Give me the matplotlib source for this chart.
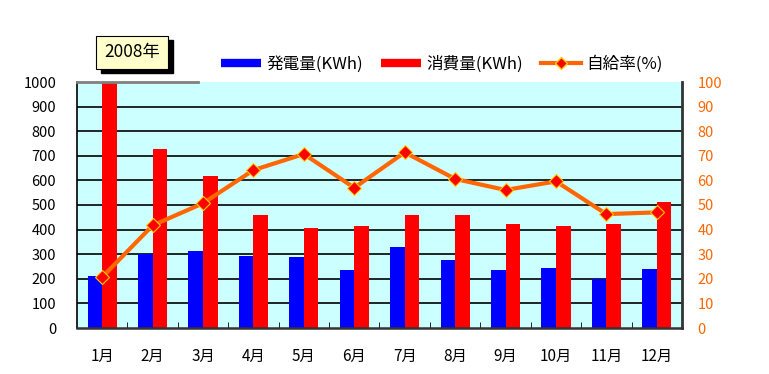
import matplotlib
matplotlib.use("Agg")
import matplotlib.pyplot as plt
import numpy as np
from matplotlib.lines import Line2D
from matplotlib.patches import Rectangle

plt.rcParams['font.family'] = ['Noto Sans CJK JP', 'DejaVu Sans']

months = ['1月', '2月', '3月', '4月', '5月', '6月', '7月', '8月', '9月', '10月', '11月', '12月']
generation = [211, 301, 313, 293, 289, 236, 329, 276, 236, 244, 198, 240]
consumption = [1020, 728, 618, 459, 407, 415, 459, 459, 423, 415, 423, 512]
self_rate = [20.7, 41.7, 50.7, 64.2, 70.7, 57.0, 71.4, 60.6, 56.1, 59.6, 46.3, 47.0]
left_ticks = list(range(0, 1001, 100))
right_ticks = list(range(0, 101, 10))

fig = plt.figure(figsize=(7.69, 3.74), dpi=100)
ax = fig.add_axes([77/769, 1-328/374, (682-77)/769, (328-82)/374])
ax.set_facecolor('#CCFFFF')

x = np.arange(len(months))
w = 0.29
ax.bar(x - w/2, generation, width=w, color='#0000FF', zorder=2)
ax.bar(x + w/2, consumption, width=w, color='#FF0000', zorder=2)
ax.set_xlim(-0.5, len(months) - 0.5)
ax.set_ylim(0, 1000)
ax.set_yticks(left_ticks)
ax.set_yticklabels([str(t) for t in left_ticks], fontsize=10.5)
for t in left_ticks[1:-1]:
    ax.axhline(t, color='black', lw=1.2, zorder=1)

ax.set_xticks(x)
ax.set_xticklabels(months, fontsize=11)
ax.tick_params(axis='x', length=0, pad=14)
ax.set_xticks(np.arange(0.5, len(months) - 1, 1), minor=True)
ax.tick_params(axis='x', which='minor', direction='in', length=4, color='black')
ax.tick_params(axis='y', length=0, pad=15)

ax.spines['left'].set_color('black')
ax.spines['left'].set_linewidth(1.2)
ax.spines['bottom'].set_color('#333333')
ax.spines['bottom'].set_linewidth(1.8)
ax.spines['right'].set_color('#333333')
ax.spines['right'].set_linewidth(2)
ax.spines['top'].set_visible(False)
ax.plot([-0.5, 1.9], [1000, 1000], color='#808080', lw=2, clip_on=False, zorder=3)

ax2 = ax.twinx()
ax2.set_ylim(0, 100)
ax2.set_yticks(right_ticks)
ax2.set_yticklabels([str(t) for t in right_ticks], fontsize=10.5, color='#FF6600')
ax2.tick_params(axis='y', length=0, pad=11)
for s in ax2.spines.values():
    s.set_visible(False)
ax2.plot(x, self_rate, color='#FF6600', lw=3, marker='D', markersize=7,
         markerfacecolor='#FF0000', markeredgecolor='#FFCC00', markeredgewidth=0.8, zorder=4)

handles = [
    Line2D([0], [0], color='#0000FF', lw=6, solid_capstyle='butt'),
    Line2D([0], [0], color='#FF0000', lw=6, solid_capstyle='butt'),
    Line2D([0], [0], color='#FF6600', lw=3, marker='D', markersize=6,
           markerfacecolor='#FF0000', markeredgecolor='#FFCC00'),
]
labels = ['発電量(KWh)', '消費量(KWh)', '自給率(%)']
fig.legend(handles, labels, loc='center left', bbox_to_anchor=(214/769, 1-64/374),
           ncol=3, frameon=False, fontsize=12, handlelength=2.4, columnspacing=1.05,
           handletextpad=0.35, borderaxespad=0)

# title box with shadow
fig.patches.append(Rectangle((101/769, 1-73/374), 72/769, 33/374, transform=fig.transFigure,
                             facecolor='black', edgecolor='black', zorder=1))
fig.patches.append(Rectangle((96/769, 1-69/374), 72/769, 33/374, transform=fig.transFigure,
                             facecolor='#FFFFCC', edgecolor='black', lw=0.8, zorder=2))
fig.text(132/769, 1-52/374, '2008年', ha='center', va='center', fontsize=12.5, zorder=3)

fig.savefig('out.png', dpi=100)
